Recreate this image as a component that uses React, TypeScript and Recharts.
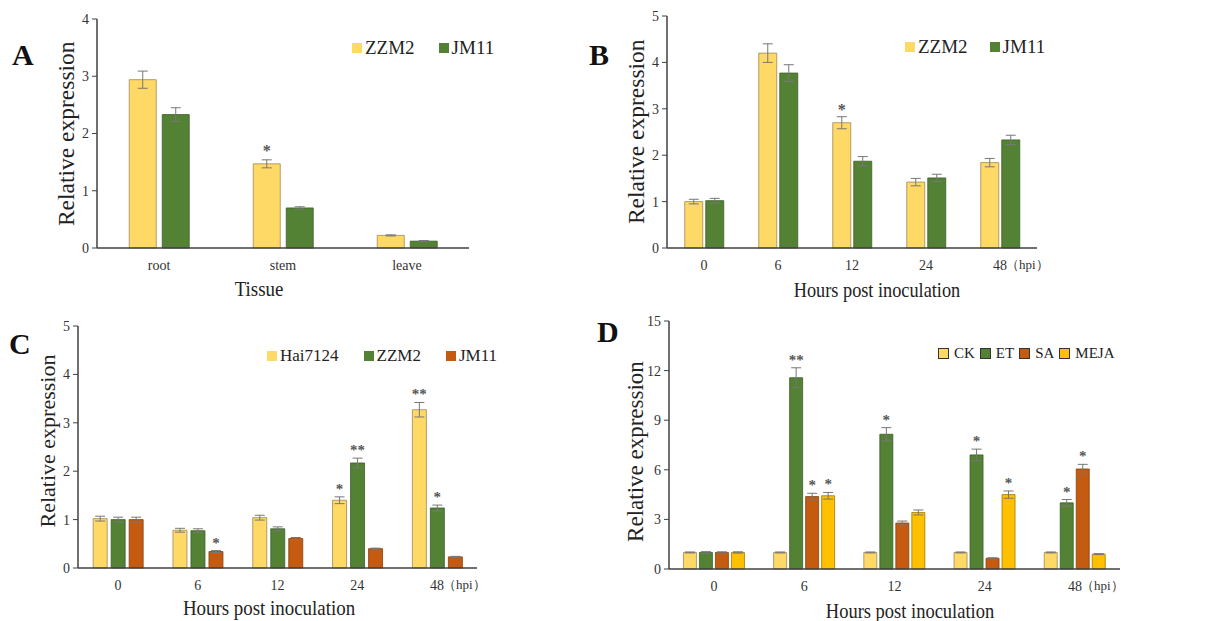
import React from 'react';
import { BarChart, Bar, XAxis, YAxis, ErrorBar, LabelList, Legend } from 'recharts';

const FONT = '"Liberation Serif", "Times New Roman", serif';

const YELLOW = '#FFD966';
const GREEN = '#548235';
const ORANGE = '#C55A11';
const GOLD = '#FFC000';

// ---------- Panel A ----------
const tissues = ['root', 'stem', 'leave'];
const aZZM2 = [2.94, 1.47, 0.22];
const aZZM2Err = [0.15, 0.07, 0.01];
const aZZM2Sig = ['', '*', ''];
const aJM11 = [2.33, 0.7, 0.12];
const aJM11Err = [0.12, 0.02, 0.01];
const aJM11Sig = ['', '', ''];
const aTicks = [0, 1, 2, 3, 4];

// ---------- Panel B ----------
const hpi = ['0', '6', '12', '24', '48（hpi）'];
const bZZM2 = [1.0, 4.2, 2.7, 1.42, 1.84];
const bZZM2Err = [0.05, 0.2, 0.13, 0.08, 0.09];
const bZZM2Sig = ['', '', '*', '', ''];
const bJM11 = [1.02, 3.77, 1.87, 1.51, 2.33];
const bJM11Err = [0.05, 0.18, 0.1, 0.08, 0.1];
const bJM11Sig = ['', '', '', '', ''];
const bTicks = [0, 1, 2, 3, 4, 5];

// ---------- Panel C ----------
const cHai = [1.02, 0.78, 1.04, 1.4, 3.27];
const cHaiErr = [0.05, 0.04, 0.05, 0.07, 0.15];
const cHaiSig = ['', '', '', '*', '**'];
const cZZM2 = [1.0, 0.77, 0.81, 2.17, 1.24];
const cZZM2Err = [0.05, 0.04, 0.04, 0.1, 0.06];
const cZZM2Sig = ['', '', '', '**', '*'];
const cJM11 = [1.0, 0.34, 0.61, 0.4, 0.23];
const cJM11Err = [0.05, 0.02, 0.02, 0.01, 0.01];
const cJM11Sig = ['', '*', '', '', ''];
const cTicks = [0, 1, 2, 3, 4, 5];

// ---------- Panel D ----------
const dCK = [1.0, 1.0, 1.0, 1.0, 1.0];
const dCKErr = [0.03, 0.03, 0.03, 0.03, 0.03];
const dCKSig = ['', '', '', '', ''];
const dET = [1.0, 11.57, 8.15, 6.9, 4.0];
const dETErr = [0.05, 0.6, 0.4, 0.35, 0.2];
const dETSig = ['', '**', '*', '*', '*'];
const dSA = [1.0, 4.38, 2.78, 0.65, 6.05];
const dSAErr = [0.04, 0.2, 0.12, 0.03, 0.28];
const dSASig = ['', '*', '', '', '*'];
const dMEJA = [1.0, 4.43, 3.42, 4.5, 0.9];
const dMEJAErr = [0.04, 0.2, 0.15, 0.22, 0.03];
const dMEJASig = ['', '*', '', '*', ''];
const dTicks = [0, 3, 6, 9, 12, 15];

type Series = { key: string; name: string; color: string; stroke: string; vals: number[]; errs: number[]; sigs: string[] };

function buildData(cats: string[], series: Series[]) {
  return cats.map((c, i) => {
    const row: any = { cat: c };
    series.forEach((s) => {
      row[s.key] = s.vals[i];
      row[s.key + 'Err'] = s.errs[i];
      row[s.key + 'Sig'] = s.sigs[i];
    });
    return row;
  });
}

const XTick = (props: any) => {
  const { x, y, payload, fontSize } = props;
  const s = String(payload.value);
  const i = s.indexOf('（');
  if (i < 0) {
    return (
      <text x={x} y={y} dy="0.71em" textAnchor="middle" fontSize={fontSize} fill="#333" fontFamily={FONT}>
        {s}
      </text>
    );
  }
  const main = s.slice(0, i);
  const rest = s.slice(i);
  const half = main.length * fontSize * 0.25;
  return (
    <g>
      <text x={x} y={y} dy="0.71em" textAnchor="middle" fontSize={fontSize} fill="#333" fontFamily={FONT}>
        {main}
      </text>
      <text x={x + half - 1} y={y} dy="0.71em" textAnchor="start" fontSize={fontSize - 1} fill="#333" fontFamily={FONT}>
        {rest}
      </text>
    </g>
  );
};

const makeStar = (data: any[], key: string, fs: number, gap: number) => (props: any) => {
  const { x, y, width, height, index, value } = props;
  if (!value) return null;
  const v = data[index][key];
  const e = data[index][key + 'Err'];
  const h = Number(height);
  const per = v ? h / v : 0;
  const top = Number(y) - e * per;
  return (
    <text x={Number(x) + Number(width) / 2} y={top - gap} textAnchor="middle" fontSize={fs} fill="#555" fontFamily={FONT} fontWeight="bold">
      {value}
    </text>
  );
};

const LegendBox = (props: any) => {
  const { items, fontSize, itemGap, swatch, border } = props;
  return (
    <div style={{ display: 'flex', alignItems: 'center', fontFamily: FONT, fontSize, color: '#222', whiteSpace: 'nowrap', lineHeight: 1 }}>
      {(items as Series[]).map((p, i) => (
        <span key={p.key} style={{ display: 'inline-flex', alignItems: 'center', marginRight: i < items.length - 1 ? itemGap : 0 }}>
          <span
            style={{
              display: 'inline-block',
              width: swatch,
              height: swatch,
              background: p.color,
              border: border ? '1px solid #333' : 'none',
              marginRight: border ? 5 : 3,
              boxSizing: 'border-box',
            }}
          />
          {p.name}
        </span>
      ))}
    </div>
  );
};

type PanelProps = {
  left: number;
  top: number;
  width: number;
  height: number;
  margin: { top: number; right: number; bottom: number; left: number };
  cats: string[];
  series: Series[];
  ticks: number[];
  catGap: string;
  barGap: number;
  legendPos: { left: number; top: number };
  legendFont: number;
  legendGap: number;
  legendSwatch: number;
  legendBorder?: boolean;
  starFont: number;
  starGap: number;
  xFont: number;
};

const Panel = (p: PanelProps) => {
  const data = buildData(p.cats, p.series);
  return (
    <div style={{ position: 'absolute', left: p.left, top: p.top }}>
      <BarChart width={p.width} height={p.height} data={data} margin={p.margin} barCategoryGap={p.catGap} barGap={p.barGap}>
        <XAxis
          dataKey="cat"
          interval={0}
          tickLine={false}
          axisLine={{ stroke: '#404040', strokeWidth: 1.5 }}
          tick={<XTick fontSize={p.xFont} />}
          height={30}
          tickSize={6}
          tickMargin={6}
        />
        <YAxis
          domain={[p.ticks[0], p.ticks[p.ticks.length - 1]]}
          ticks={p.ticks}
          interval={0}
          width={40}
          axisLine={{ stroke: '#404040', strokeWidth: 1.5 }}
          tickLine={{ stroke: '#404040' }}
          tickSize={5}
          tickMargin={3}
          tick={{ fontSize: 14, fill: '#333', fontFamily: FONT }}
        />
        <Legend
          layout="horizontal"
          verticalAlign="middle"
          align="center"
          wrapperStyle={{ left: p.legendPos.left, top: p.legendPos.top, width: 'auto' }}
          content={() => (
            <LegendBox items={p.series} fontSize={p.legendFont} itemGap={p.legendGap} swatch={p.legendSwatch} border={p.legendBorder} />
          )}
        />
        {p.series.map((s) => (
          <Bar key={s.key} dataKey={s.key} name={s.name} fill={s.color} stroke={s.stroke} strokeWidth={0.8} isAnimationActive={false}>
            <ErrorBar dataKey={s.key + 'Err'} width={5} stroke="#777" strokeWidth={1} direction="y" />
            <LabelList dataKey={s.key + 'Sig'} content={makeStar(data, s.key, p.starFont, p.starGap)} />
          </Bar>
        ))}
      </BarChart>
    </div>
  );
};

const Title = ({ text, cx, cy, size, rotate, squeeze }: { text: string; cx: number; cy: number; size: number; rotate?: boolean; squeeze?: number }) => {
  const w = 320;
  const lh = size + 4;
  const tr = rotate ? 'rotate(-90deg)' : squeeze ? `scaleX(${squeeze})` : undefined;
  return (
    <div
      style={{
        position: 'absolute',
        left: cx - w / 2,
        top: cy - lh / 2,
        width: w,
        height: lh,
        lineHeight: lh + 'px',
        textAlign: 'center',
        fontFamily: FONT,
        fontSize: size,
        color: '#222',
        transform: tr,
        whiteSpace: 'nowrap',
      }}
    >
      {text}
    </div>
  );
};

const Letter = ({ text, left, cy }: { text: string; left: number; cy: number }) => (
  <div style={{ position: 'absolute', left, top: cy - 16, height: 32, lineHeight: '32px', fontFamily: FONT, fontWeight: 'bold', fontSize: 30, color: '#111' }}>
    {text}
  </div>
);

export default function App() {
  const aSeries: Series[] = [
    { key: 'zzm2', name: 'ZZM2', color: YELLOW, stroke: '#9c8a55', vals: aZZM2, errs: aZZM2Err, sigs: aZZM2Sig },
    { key: 'jm11', name: 'JM11', color: GREEN, stroke: '#3b5e26', vals: aJM11, errs: aJM11Err, sigs: aJM11Sig },
  ];
  const bSeries: Series[] = [
    { key: 'zzm2', name: 'ZZM2', color: YELLOW, stroke: '#9c8a55', vals: bZZM2, errs: bZZM2Err, sigs: bZZM2Sig },
    { key: 'jm11', name: 'JM11', color: GREEN, stroke: '#3b5e26', vals: bJM11, errs: bJM11Err, sigs: bJM11Sig },
  ];
  const cSeries: Series[] = [
    { key: 'hai', name: 'Hai7124', color: YELLOW, stroke: '#9c8a55', vals: cHai, errs: cHaiErr, sigs: cHaiSig },
    { key: 'zzm2', name: 'ZZM2', color: GREEN, stroke: '#3b5e26', vals: cZZM2, errs: cZZM2Err, sigs: cZZM2Sig },
    { key: 'jm11', name: 'JM11', color: ORANGE, stroke: '#8a3f0c', vals: cJM11, errs: cJM11Err, sigs: cJM11Sig },
  ];
  const dSeries: Series[] = [
    { key: 'ck', name: 'CK', color: YELLOW, stroke: '#9c8a55', vals: dCK, errs: dCKErr, sigs: dCKSig },
    { key: 'et', name: 'ET', color: GREEN, stroke: '#3b5e26', vals: dET, errs: dETErr, sigs: dETSig },
    { key: 'sa', name: 'SA', color: ORANGE, stroke: '#8a3f0c', vals: dSA, errs: dSAErr, sigs: dSASig },
    { key: 'meja', name: 'MEJA', color: GOLD, stroke: '#a07a00', vals: dMEJA, errs: dMEJAErr, sigs: dMEJASig },
  ];

  return (
    <div style={{ position: 'absolute', left: 0, top: 0, width: 1217, height: 621, background: '#fff', overflow: 'hidden', fontFamily: FONT }}>
      <Panel
        left={0} top={0} width={600} height={300}
        margin={{ top: 19, right: 131, bottom: 22, left: 57 }}
        cats={tissues} series={aSeries} ticks={aTicks}
        catGap="26%" barGap={6}
        legendPos={{ left: 352, top: 38 }} legendFont={19} legendGap={24} legendSwatch={10}
        starFont={16} starGap={4} xFont={14}
      />
      <Panel
        left={600} top={0} width={617} height={300}
        margin={{ top: 16, right: 180, bottom: 22, left: 27 }}
        cats={hpi} series={bSeries} ticks={bTicks}
        catGap="24%" barGap={3}
        legendPos={{ left: 305, top: 37 }} legendFont={19} legendGap={22} legendSwatch={10}
        starFont={16} starGap={2} xFont={14}
      />
      <Panel
        left={0} top={300} width={600} height={321}
        margin={{ top: 26, right: 123, bottom: 23, left: 38 }}
        cats={hpi} series={cSeries} ticks={cTicks}
        catGap="19%" barGap={4}
        legendPos={{ left: 267, top: 47 }} legendFont={17} legendGap={25} legendSwatch={10}
        starFont={15} starGap={3} xFont={14}
      />
      <Panel
        left={600} top={300} width={617} height={321}
        margin={{ top: 21, right: 97, bottom: 22, left: 29 }}
        cats={hpi} series={dSeries} ticks={dTicks}
        catGap="16%" barGap={3}
        legendPos={{ left: 338, top: 46 }} legendFont={15} legendGap={5} legendSwatch={11} legendBorder
        starFont={15} starGap={3} xFont={14}
      />

      <Letter text="A" left={12} cy={55} />
      <Letter text="B" left={589} cy={55} />
      <Letter text="C" left={9} cy={344} />
      <Letter text="D" left={597} cy={332} />

      <Title text="Relative expression" cx={67} cy={134} size={23.5} rotate />
      <Title text="Relative expression" cx={637} cy={132} size={23.5} rotate />
      <Title text="Relative expression" cx={48} cy={441} size={22} rotate />
      <Title text="Relative expression" cx={635} cy={451} size={23} rotate />

      <Title text="Tissue" cx={259} cy={289} size={21} squeeze={0.9} />
      <Title text="Hours post inoculation" cx={877} cy={290} size={21} squeeze={0.87} />
      <Title text="Hours post inoculation" cx={269} cy={608} size={21} squeeze={0.9} />
      <Title text="Hours post inoculation" cx={910} cy={611} size={21} squeeze={0.88} />
    </div>
  );
}
